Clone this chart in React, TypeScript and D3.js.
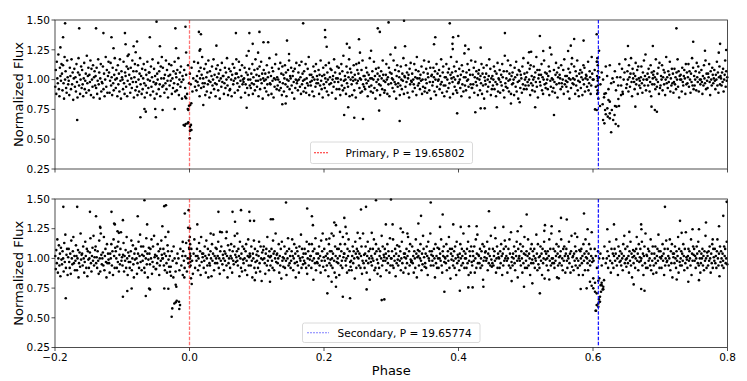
import React, { useEffect } from 'react';
import * as d3 from 'd3';

// phase-folded light curve, two panels (primary / secondary period)
const phaseTicks = [-0.2, 0.0, 0.2, 0.4, 0.6, 0.8];
const fluxTicks = [0.25, 0.5, 0.75, 1.0, 1.25, 1.5];
const binStart = -0.2;
const binWidth = 0.01;

const primaryPhase = 0.0;
const secondaryPhase = 0.608;
const primaryLabel = 'Primary, P = 19.65802';
const secondaryLabel = 'Secondary, P = 19.65774';

// baseline flux (percent) for each 0.01-wide phase bin, top panel
const topBand = [
  [94,108,88,115,101,97,121,92,86,110,103,99,113],
  [105,91,112,97,84,119,100,107,93,89,116,102,96],
  [99,87,110,103,92,117,96,106,83,101,109,94],
  [102,90,113,98,85,106,118,95,104,88,100,111,93],
  [108,96,86,101,114,92,99,105,89,120,97,103,110],
  [91,104,98,116,87,109,100,94,112,85,102,107,95],
  [103,93,110,88,99,117,96,106,84,101,113,90,98],
  [97,111,92,105,86,100,119,94,108,89,103,115],
  [106,89,99,114,95,102,87,110,97,91,104,118,100],
  [93,108,101,86,112,96,105,90,117,99,84,107,102],
  [100,92,115,97,88,106,103,94,111,86,99,109,121],
  [104,96,89,110,101,93,116,98,107,85,102,113,91],
  [98,107,94,87,112,100,90,105,118,96,103,88,109],
  [92,101,113,97,85,108,95,104,89,115,100,93,106],
  [106,99,87,111,94,102,117,90,98,109,84,103,96],
  [97,88,105,100,114,92,107,96,86,111,101,119,94],
  [110,95,101,89,104,97,116,92,108,99,85,103,113],
  [95,104,99,112,88,101,93,107,97,115,90,105],
  [102,91,108,96,118,87,100,106,94,111,98,84,103],
  [100,108,93,104,88,112,97],
  [105,96,110,90,101,115,94,99],
  [91,103,98,114,95,107,86,101,110,93,104,119,97],
  [101,94,109,97,87,113,102,90,106,96,116,99,85],
  [107,98,89,103,111,95,100,117,92,104,97,86,109],
  [96,102,112,91,105,99,84,108,101,94,114,98,103],
  [103,88,97,110,93,106,100,118,95,87,102,109,91],
  [92,107,100,86,104,113,96,99,110,89,101,105,117],
  [105,97,91,102,115,94,108,99,85,103,112,96,100],
  [98,101,110,89,96,106,120,93,104,100,87,109,95],
  [100,93,105,97,113,88,102,96,108,91,117,99,104],
  [94,109,99,86,103,111,92,100,115,97,105,84,101],
  [108,99,93,105,100,90,112,96,102,87,106,118,97],
  [96,103,88,110,99,107,85,101,94,113,100,121,92],
  [102,95,100,109,91,98,114,93,105,87,111,97,104],
  [90,101,112,96,106,86,100,94,108,99,116,92,103],
  [101,110,95,89,103,107,98,84,109,93,100,114,97],
  [99,91,106,100,112,94,102,88,115,96,105,99,90],
  [107,100,93,113,89,101,97,109,95,119,87,104,98],
  [95,104,99,90,102,111,86,100,107,94,113,97,103],
  [100,97,108,88,104,95,116,99,92,103,85,110,96],
  [104,93,101,112,98,90,106,100,87,114,96,102,109],
  [97,108,89,100,103,94,117,98,106,84,101,92,111],
  [101,98,110,92,105,87,100,113,95,107,91,120,99],
  [93,103,100,88,111,97,106,94,102,117,86,109,100],
  [106,96,87,102,99,112,91,104,100,85,113,97,108],
  [99,105,114,93,101,89,100,108,90,116,96,103,94],
  [103,92,100,110,97,106,86,99,104,94,118,101,90],
  [95,101,107,89,100,115,93,103,84,109,98,91,105],
  [100,110,96,103,87,95,107,101,92,116,104,99,89],
  [91,98,104,113,100,88,102,96,110,86,106,121,97],
  [105,101,93,100,116,90,98,108,96,84,103,112,94],
  [97,107,102,87,95,111,100,92,105,99,118,88,103],
  [102,94,112,98,106,89,101,104,85,109,96,114,99],
  [98,105,90,100,96,113,93,102,108,87,119,101,95],
  [107,97,101,92,104,99,111,88,100,94,106,116,90],
  [93,100,109,97,89,105,102,115,91,98,110,84,103],
  [104,95,98,110,102,90,107,100,87,113,94,105,99],
  [100,108,92,103,96,117,98,89,106,111,95,86,102],
  [95,102,113,90,100,106,93,109,97,85,104,119,101],
  [106,98,88,102,111,94,100,107,91,115,89,103,97],
  [98,109,100,93,104,86,112,96,107,90,102,122,95],
  [102,91,106,99,113,100,94,108,85,104,96,116,93],
  [93,104,96,110,89,102,115,98,107,95,101,87,105],
  [108,100,91,103,97,113,88,105,95,110,84,102,99],
  [96,105,112,90,100,94,103,117,98,109,87,101,92],
  [103,95,100,111,92,107,98,86,105,96,114,90,101],
  [100,108,89,98,104,95,113,102,91,107,85,120,97],
  [94,101,107,93,116,99,90,105,100,112,88,103,96],
  [106,97,100,87,110,102,94,115,90,104,98,84,108],
  [99,107,93,104,101,89,111,96,118,92,105,100,95],
  [102,92,106,98,114,95,100,109,87,112,97,103,91],
  [95,100,111,102,90,106,98,119,94,108,85,101,104],
  [108,98,95,104,113,91,102,88,100,116,96,106,93],
  [97,105,100,92,103,111,87,107,99,94,121,101,90],
  [100,93,108,98,89,104,114,96,106,85,102,110,97],
  [104,101,92,112,97,94,100,108,88,117,96,103,99],
  [94,103,98,90,109,101,84,106,100,93,113,118,97],
  [101,96,111,100,88,107,95,103,116,91,99,86,105],
  [98,108,93,102,106,87,100,112,96,110,90,101,104],
  [103,94,100,115,91,97,107,102,88,95,119,105,100],
  [100,108,94,115,89,102],
  [96,106,100,88,111],
  [103,92,112,97,101],
  [98,107,91,102,95,113],
  [102,95,109,88,100,106,117,93],
  [96,107,100,90,112,102,94,105,118,98,86,109,101],
  [105,98,92,103,114,96,100,108,88,111,101,95,99],
  [93,102,111,97,89,106,100,116,95,103,121,91,100],
  [100,105,95,109,102,90,98,112,86,106,96,101,104],
  [107,96,102,92,117,100,94,105,98,110,88,114,93],
  [95,103,100,112,91,102,108,96,106,87,100,119,97],
  [102,93,107,98,104,115,90,101,95,109,97,105,89],
  [98,109,96,102,92,106,100,117,94,107,85,103,100],
  [104,100,90,110,98,95,103,108,101,88,113,96,106],
  [97,102,113,94,107,100,89,105,98,118,95,110,92],
  [103,95,100,107,91,114,102,98,111,90,106,100,96],
  [100,108,98,88,103,95,112,101,97,116,92,105,99],
  [93,105,102,113,98,87,107,100,95,110,104,97,101],
  [108,99,92,104,100,115,95,106,89,102,111,96,103],
  [101,95,106,98,109,90,100,104,116,94,107,99,102],
];

// scattered points read individually: [phase, flux]
const topOutliers: [number, number][] = [
  [-0.185,1.472],[-0.188,1.355],[-0.192,1.27],[-0.164,1.43],[-0.139,1.43],[-0.128,1.39],[-0.116,1.355],[-0.113,1.263],
  [-0.096,1.39],[-0.095,1.296],[-0.092,1.198],[-0.078,1.32],[-0.083,1.28],[-0.08,1.23],[-0.059,1.355],[-0.049,1.486],
  [-0.044,1.28],[-0.021,1.43],[-0.02,1.263],[-0.006,1.444],[-0.005,1.227],[0.014,1.4],[0.017,1.38],[0.016,1.254],
  [0.015,1.242],[0.04,1.285],[0.069,1.39],[0.089,1.39],[0.088,1.24],[0.094,1.3],[0.104,1.4],[0.11,1.313],[0.117,1.313],
  [0.145,1.327],[0.102,1.226],[0.148,1.215],[0.169,1.472],[0.2015,1.416],[0.2018,1.355],[0.204,1.276],[0.234,1.3],
  [0.238,1.268],[0.252,1.338],[0.2535,1.226],[0.27,1.242],[0.28,1.43],[0.283,1.4],[0.296,1.48],[0.319,1.494],
  [0.306,1.268],[0.3205,1.28],[0.3655,1.355],[0.3636,1.296],[0.387,1.472],[0.392,1.355],[0.3997,1.366],[0.391,1.3],
  [0.3915,1.256],[0.41,1.285],[0.415,1.254],[0.433,1.268],[0.469,1.39],[0.521,1.366],[0.572,1.34],[0.586,1.327],
  [0.567,1.285],[0.563,1.24],[0.505,1.229],[0.508,1.234],[0.536,1.268],[0.526,1.24],[0.609,1.242],[0.6055,1.38],
  [0.652,1.282],[0.689,1.282],[0.724,1.43],[0.749,1.318],[0.789,1.3],[0.798,1.248],[0.7665,1.242],[0.787,1.226],
  [-0.167,0.661],[-0.067,0.753],[-0.065,0.731],[-0.073,0.684],[-0.05,0.684],[-0.051,0.753],[-0.04,0.745],[-0.022,0.753],
  [0.0205,0.787],[0.085,0.764],[0.23,0.703],[0.236,0.768],[0.245,0.68],[0.258,0.669],[0.282,0.74],[0.3125,0.653],
  [0.398,0.717],[0.425,0.726],[0.433,0.759],[0.439,0.759],[0.457,0.768],[0.138,0.793],[0.143,0.8],[0.542,0.703],
  [0.514,0.768],[0.478,0.8],[0.491,0.81],[0.695,0.73],[0.687,0.773],[0.692,0.745],[0.663,0.773],
];

const topPrimaryDip: [number, number][] = [
  [-0.0087,0.619],[-0.007,0.613],[-0.0057,0.627],[-0.0027,0.633],[-0.0018,0.642],[0.0007,0.605],[0.0022,0.62],
  [0.0018,0.577],[0.0028,0.577],[0.0007,0.57],[0.0003,0.508],[-0.0018,0.745],[-0.0007,0.78],[0.0027,0.801],
  [-0.005,0.843],[-0.0065,0.857],[0.001,0.787],[-0.0025,0.753],
];

const topSecondaryDip: [number, number][] = [
  [0.6055,0.745],[0.6104,0.778],[0.6144,0.793],[0.619,0.709],[0.622,0.689],[0.617,0.633],[0.615,0.661],[0.625,0.675],
  [0.628,0.745],[0.63,0.661],[0.6337,0.627],[0.6377,0.61],[0.627,0.558],[0.635,0.773],[0.632,0.703],[0.6213,0.759],
  [0.625,0.717],[0.6327,0.778],[0.6387,0.778],[0.6377,0.837],[0.6417,0.87],[0.644,0.898],[0.6164,0.851],[0.619,0.885],
  [0.625,0.815],[0.623,0.829],[0.618,0.745],[0.603,0.75],
  [0.6065,1.18],[0.607,1.12],[0.6075,1.07],[0.606,1.03],[0.607,0.99],[0.6072,0.95],[0.6068,0.91],[0.6062,0.88],
  [0.608,0.84],[0.6058,1.15],[0.6073,1.01],
];

// bottom panel
const bottomBand = [
  [102,91,107,96,116,88,100,111,94,104,85,109,99],
  [95,106,100,89,113,97,120,92,103,108,86,101],
  [108,97,92,104,87,115,100,95,106,118,96,102,90],
  [98,111,102,90,100,107,84,96,105,93,121,99,103],
  [104,94,110,100,88,97,114,102,92,108,85,106,99],
  [92,100,105,117,96,89,102,109,98,119,94,101,107],
  [110,96,101,92,106,98,87,115,100,89,121,103,95],
  [100,105,94,118,90,102,108,97,84,112,96,104,99],
  [96,88,104,100,112,94,106,86,116,102,92,109],
  [106,100,92,110,97,114,89,103,95,108,122,98,101],
  [94,103,113,89,102,98,107,92,118,100,86,105,97],
  [102,92,97,106,115,90,100,111,95,84,104,99,108],
  [108,100,87,96,104,114,92,102,120,97,110,90,103],
  [98,110,102,92,88,106,100,117,95,104,84,99,109],
  [104,95,108,100,116,87,97,110,93,119,101,103,91],
  [91,102,96,112,100,106,86,94,108,98,115,103,100],
  [100,108,94,104,90,118,102,96,88,111,106,99,93],
  [102,93,106,98,110,100,89],
  [96,104,100,90,108,94,102],
  [106,98,92,102,113,89,100,96,109],
  [100,94,108,98,87,104,116,92,102],
  [98,108,102,90,100,113,94,106,86,118,97,104,101],
  [104,92,98,110,102,88,115,100,94,108,84,103,96],
  [94,106,100,85,112,98,104,120,90,102,96,109,100],
  [108,96,102,114,92,100,87,106,98,110,122,95,103],
  [100,90,106,98,104,117,94,102,84,111,96,100,107],
  [92,102,112,100,88,106,98,95,110,119,103,97,101],
  [106,98,94,108,102,85,114,100,92,104,89,110,99],
  [96,108,100,90,106,112,98,86,102,116,94,101,104],
  [102,94,110,98,84,104,100,115,92,108,97,88,103],
  [98,106,92,102,114,96,89,110,100,81,105,99,107],
  [110,100,96,87,104,108,94,118,98,102,90,106,101],
  [94,102,108,98,92,115,104,90,106,100,121,97,103],
  [104,96,100,112,88,102,94,108,83,114,98,101,93],
  [100,110,92,104,98,86,106,100,117,94,108,96,102],
  [92,98,106,116,102,90,100,112,96,104,84,109,97],
  [106,94,102,88,110,100,98,120,92,108,101,95,104],
  [98,108,96,104,92,114,87,100,106,94,112,99,102],
  [102,92,112,98,106,82,100,108,96,117,90,104,97],
  [96,104,100,110,94,102,88,115,98,106,121,93,101],
  [108,98,90,102,116,94,104,100,85,112,96,106,99],
  [94,106,100,92,104,119,98,88,110,102,84,97,108],
  [100,96,108,86,102,112,94,106,98,92,118,101,104],
  [104,112,98,94,100,88,108,102,116,90,106,97,93],
  [98,90,102,110,96,106,100,83,114,104,92,108,101],
  [106,100,94,104,117,92,102,110,87,98,121,96,103],
  [92,104,110,98,88,102,114,96,106,100,82,108,97],
  [102,94,100,108,98,116,90,104,92,112,106,99,87],
  [96,108,92,102,106,85,100,119,94,110,98,103,101],
  [108,98,104,90,100,112,96,106,102,88,117,94,100],
  [100,106,94,116,92,102,98,108,85,104,96,111,99],
  [94,102,110,98,106,90,100,114,96,122,88,104,101],
  [104,92,100,108,96,102,118,87,106,94,112,99,97],
  [98,110,96,102,88,106,100,92,116,104,84,101,107],
  [102,94,106,100,112,98,90,104,95,119,108,101,93],
  [96,104,92,110,102,86,114,100,98,106,121,94,103],
  [106,98,102,94,108,100,84,112,96,102,92,109,100],
  [92,108,100,104,98,116,94,88,106,102,110,97,101],
  [100,96,112,90,102,106,98,118,92,108,83,104,99],
  [108,102,94,98,106,92,110,100,86,114,96,103,101],
  [98,90,104,112,100,94,108,102,96,121,106,92,100],
  [104,100,92,108,96,114,86,98,106,102,88,110,97],
  [94,106,102,98,110,88,100,116,92,104,120,96,103],
  [102,96,108,92,100,106,94,112,82,98,110,101,105],
  [106,98,100,114,90,104,96,108,102,94,119,99,93],
  [96,108,94,102,106,98,117,88,100,110,92,104,101],
  [100,92,106,96,112,102,86,104,94,108,98,115,100],
  [110,102,98,88,100,108,94,116,104,92,122,97,101],
  [94,104,100,110,96,90,106,102,114,98,84,108,100],
  [102,98,112,94,106,100,88,110,96,104,118,92,103],
  [98,106,92,102,116,94,104,100,86,108,96,112,99],
  [106,96,102,108,92,100,98,120,104,90,112,95,101],
  [92,102,110,98,104,86,108,96,100,114,83,106,99],
  [104,94,100,106,90,102,116,98,108,94,121,100,96],
  [100,108,96,92,106,98,102,112,84,104,94,110,101],
  [96,102,106,116,94,100,90,108,98,110,102,88,104],
  [108,98,92,102,100,114,96,104,88,106,119,93,101],
  [102,90,104,98,110,94,106,100,118,92,98,86,107],
  [94,106,100,108,96,102,86,112,98,104,90,116,101],
  [106,100,96,90,104,112,98,94,108,102,122,97,100],
  [98,108,102,92,106,100],
  [104,94,100,110,96],
  [100,106,92,102,114,98,88,108,96,104],
  [92,102,108,98,104,116,94,100,86,110,102,97],
  [106,98,94,104,100,90,112,102,119,96,108,99,93],
  [100,110,96,102,88,106,98,114,94,104,84,101,107],
  [96,102,106,92,100,108,118,98,104,90,112,97,101],
  [108,98,100,114,94,104,86,102,110,96,121,92,103],
  [102,92,108,98,106,100,94,116,90,104,98,110,87],
  [94,104,100,110,96,88,102,108,98,120,106,92,101],
  [106,100,92,102,112,98,104,86,108,94,100,115,97],
  [98,108,102,94,100,116,90,106,96,112,84,104,101],
  [104,96,110,100,92,106,98,102,118,88,108,97,94],
  [100,106,94,104,98,112,102,90,108,96,122,101,99],
  [92,102,108,98,106,100,94,116,86,104,98,110,103],
  [108,98,102,92,100,110,104,96,114,94,106,100,88],
  [96,104,100,108,94,102,90,106,98,119,100,92,105],
  [102,94,106,98,110,100,88,104,96,112,92,108,101],
  [98,108,96,102,92,106,116,100,94,104,85,110,97],
  [106,100,94,104,98,92,110,102,108,96,100,114,95],
];

const bottomOutliers: [number, number][] = [
  [-0.1876,1.434],[-0.167,1.434],[-0.148,1.392],[-0.139,1.355],[-0.133,1.265],[-0.1325,1.257],[-0.116,1.392],
  [-0.112,1.293],[-0.111,1.286],[-0.099,1.322],[-0.107,1.229],[-0.105,1.215],[-0.077,1.355],[-0.067,1.49],
  [-0.063,1.286],[-0.0375,1.44],[-0.035,1.448],[-0.0404,1.271],[-0.0315,1.223],[-0.007,1.378],[-0.0013,1.406],
  [-0.002,1.257],[0.0007,1.252],[-0.0101,1.139],[0.0116,1.286],[0.043,1.392],[0.064,1.392],[0.0766,1.406],
  [0.0677,1.308],[0.089,1.392],[0.0315,1.21],[0.0454,1.223],[0.0553,1.223],[0.071,1.21],
  [0.1435,1.47],[0.175,1.42],[0.182,1.355],[0.1835,1.28],[0.09,1.316],[0.096,1.316],[0.121,1.33],[0.124,1.33],
  [0.2153,1.302],[0.2178,1.28],[0.2302,1.341],[0.232,1.265],[0.2114,1.21],[0.208,1.168],[0.2238,1.223],[0.2337,1.21],
  [0.255,1.412],[0.2625,1.434],[0.2773,1.49],[0.2996,1.496],[0.25,1.215],[0.271,1.215],[0.292,1.286],[0.302,1.286],
  [0.3443,1.358],[0.3403,1.294],[0.3587,1.47],[0.3765,1.37],[0.3725,1.265],[0.3922,1.286],[0.4033,1.265],
  [0.4156,1.271],[0.427,1.271],[0.4453,1.397],[0.4543,1.257],[0.314,1.252],[0.324,1.21],
  [0.5014,1.37],[0.5524,1.341],[0.561,1.328],[0.5866,1.378],[0.707,1.434],[0.7988,1.476],[0.7937,1.358],
  [0.7294,1.316],[0.768,1.302],[0.7874,1.271],[0.4667,1.265],[0.493,1.271],[0.488,1.229],[0.5286,1.28],
  [0.5385,1.271],[0.55,1.229],[0.5276,1.232],[0.5733,1.21],[0.592,1.246],[0.6312,1.286],[0.6213,1.246],
  [0.6716,1.286],[0.672,1.246],[0.654,1.223],[0.7318,1.215],[0.748,1.246],[0.7576,1.246],[0.778,1.16],
  [-0.184,0.664],[-0.099,0.677],[-0.0925,0.725],[-0.086,0.747],[-0.065,0.683],[-0.0587,0.739],[-0.06,0.747],
  [-0.0375,0.747],[-0.0315,0.744],[-0.0205,0.778],[-0.0196,0.761],[0.0033,0.784],[0.205,0.706],[0.228,0.677],
  [0.2387,0.664],[0.2634,0.739],[0.2858,0.649],[0.2897,0.655],[0.379,0.719],[0.402,0.728],[0.4146,0.756],
  [0.421,0.756],[0.437,0.761],[0.2114,0.803],[0.2178,0.761],[0.1197,0.803],[0.097,0.817],[0.521,0.706],
  [0.4974,0.761],[0.5098,0.79],[0.5817,0.742],[0.6766,0.728],[0.6716,0.742],[0.6605,0.781],[0.7245,0.823],
  [0.7417,0.803],[0.7576,0.817],[0.479,0.809],[0.535,0.823],[0.549,0.832],
];

const bottomPrimaryDip: [number, number][] = [
  [-0.0265,0.509],[-0.0256,0.579],[-0.0226,0.62],[-0.0205,0.63],[-0.019,0.643],[-0.0156,0.635],[-0.0141,0.607],
  [-0.0152,0.574],[-0.029,0.887],[-0.0275,0.854],[-0.024,0.84],[-0.01,0.86],[-0.0077,0.84],[0.0022,0.832],
  [0.0005,1.18],[0.001,1.12],[-0.0005,1.08],[0.0008,1.04],[0.0,1.0],[0.0012,0.97],[0.0003,0.93],[-0.0008,1.15],
  [0.0015,1.02],
];

const bottomSecondaryDip: [number, number][] = [
  [0.6045,0.559],[0.6055,0.607],[0.6079,0.621],[0.6089,0.655],[0.6104,0.677],[0.6055,0.706],[0.603,0.719],
  [0.6119,0.719],[0.6144,0.739],[0.6004,0.748],[0.598,0.77],[0.6114,0.775],[0.6129,0.795],[0.603,0.795],
  [0.6079,0.812],[0.6094,0.832],[0.6153,0.761],[0.6164,0.817],[0.5955,0.803],[0.6004,0.832],[0.5906,0.748],
  [0.6079,0.593],[0.6104,0.635],[0.6129,0.775],[0.6153,0.74],[0.6039,0.559],
];

const font = 'DejaVu Sans, sans-serif';
const W = 747;
const H = 381;
const left = 55;
const right = 727.5;

const x = d3.scaleLinear().domain([-0.2, 0.8]).range([left, right]);
const fmtX = (v: number) => d3.format('.1f')(v).replace('-', '\u2212');
const fmtY = d3.format('.2f');

function bandPoints(rows: number[][]): [number, number][] {
  const pts: [number, number][] = [];
  rows.forEach((row, i) => {
    row.forEach((v, j) => {
      pts.push([binStart + binWidth * (i + (j + 0.5) / row.length), v / 100]);
    });
  });
  return pts;
}

type PanelProps = {
  top: number;
  bottom: number;
  points: [number, number][];
  linePhase: number;
  lineColor: string;
  lineOpacity: number;
  legendText: string;
  legendColor: string;
  legendBox: { x: number; y: number; w: number; h: number; lx0: number; lx1: number; tx: number };
  showXLabels: boolean;
};

function Panel(p: PanelProps) {
  const y = d3.scaleLinear().domain([0.25, 1.5]).range([p.bottom, p.top]);
  const lb = p.legendBox;
  return (
    <g>
      <g>
        {p.points.map((d, i) => (
          <circle key={i} cx={x(d[0])} cy={y(d[1])} r={1.3} fill="#000" />
        ))}
      </g>
      <line
        x1={x(p.linePhase)} x2={x(p.linePhase)} y1={p.top} y2={p.bottom}
        stroke={p.lineColor} strokeOpacity={p.lineOpacity} strokeWidth={1.3} strokeDasharray="3.5,1.6"
      />
      <rect x={left} y={p.top} width={right - left} height={p.bottom - p.top}
        fill="none" stroke="#222" strokeWidth={0.8} />
      {fluxTicks.map(t => (
        <g key={t}>
          <line x1={left - 3.5} x2={left} y1={y(t)} y2={y(t)} stroke="#222" strokeWidth={0.8} />
          <text x={left - 5} y={y(t)} dy="0.36em" textAnchor="end" fontSize={10.5} fontFamily={font}>{fmtY(t)}</text>
        </g>
      ))}
      {phaseTicks.map(t => (
        <g key={t}>
          <line x1={x(t)} x2={x(t)} y1={p.bottom} y2={p.bottom + 3.5} stroke="#222" strokeWidth={0.8} />
          {p.showXLabels && (
            <text x={x(t)} y={p.bottom + 13} textAnchor="middle" fontSize={10.5} fontFamily={font}>{fmtX(t)}</text>
          )}
        </g>
      ))}
      <text
        transform={`translate(23,${(p.top + p.bottom) / 2}) rotate(-90)`}
        textAnchor="middle" fontSize={13} fontFamily={font}
      >Normalized Flux</text>
      <rect x={lb.x} y={lb.y} width={lb.w} height={lb.h} rx={2} fill="#fff" fillOpacity={0.8}
        stroke="#d0d0d0" strokeWidth={0.8} />
      <line x1={lb.lx0} x2={lb.lx1} y1={lb.y + lb.h / 2} y2={lb.y + lb.h / 2}
        stroke={p.legendColor} strokeWidth={1} strokeDasharray="2,1" />
      <text x={lb.tx} y={lb.y + lb.h / 2} dy="0.36em" fontSize={10.5} fontFamily={font}>{p.legendText}</text>
    </g>
  );
}

export default function App() {
  useEffect(() => {
    document.body.style.margin = '0';
  }, []);

  const topPoints = [...bandPoints(topBand), ...topOutliers, ...topPrimaryDip, ...topSecondaryDip];
  const bottomPoints = [...bandPoints(bottomBand), ...bottomOutliers, ...bottomPrimaryDip, ...bottomSecondaryDip];

  return (
    <svg width={W} height={H} style={{ display: 'block', background: '#fff' }}>
      <Panel
        top={20} bottom={169} points={topPoints}
        linePhase={primaryPhase} lineColor="#ff0000" lineOpacity={0.55}
        legendText={primaryLabel} legendColor="#ff2020"
        legendBox={{ x: 310.5, y: 142, w: 162, h: 21.5, lx0: 314, lx1: 329, tx: 345.5 }}
        showXLabels={false}
      />
      <Panel
        top={199} bottom={347.5} points={bottomPoints}
        linePhase={secondaryPhase} lineColor="#0000ff" lineOpacity={0.9}
        legendText={secondaryLabel} legendColor="#7f7fff"
        legendBox={{ x: 302.5, y: 323, w: 177.5, h: 19.5, lx0: 307, lx1: 329, tx: 337.5 }}
        showXLabels={true}
      />
      <line x1={x(secondaryPhase)} x2={x(secondaryPhase)} y1={20} y2={169}
        stroke="#0000ff" strokeOpacity={0.9} strokeWidth={1.2} strokeDasharray="3.5,1.6" />
      <line x1={x(primaryPhase)} x2={x(primaryPhase)} y1={199} y2={347.5}
        stroke="#ff0000" strokeOpacity={0.55} strokeWidth={1.3} strokeDasharray="3.5,1.6" />
      <text x={(left + right) / 2} y={375} textAnchor="middle" fontSize={13} fontFamily={font}>Phase</text>
    </svg>
  );
}
